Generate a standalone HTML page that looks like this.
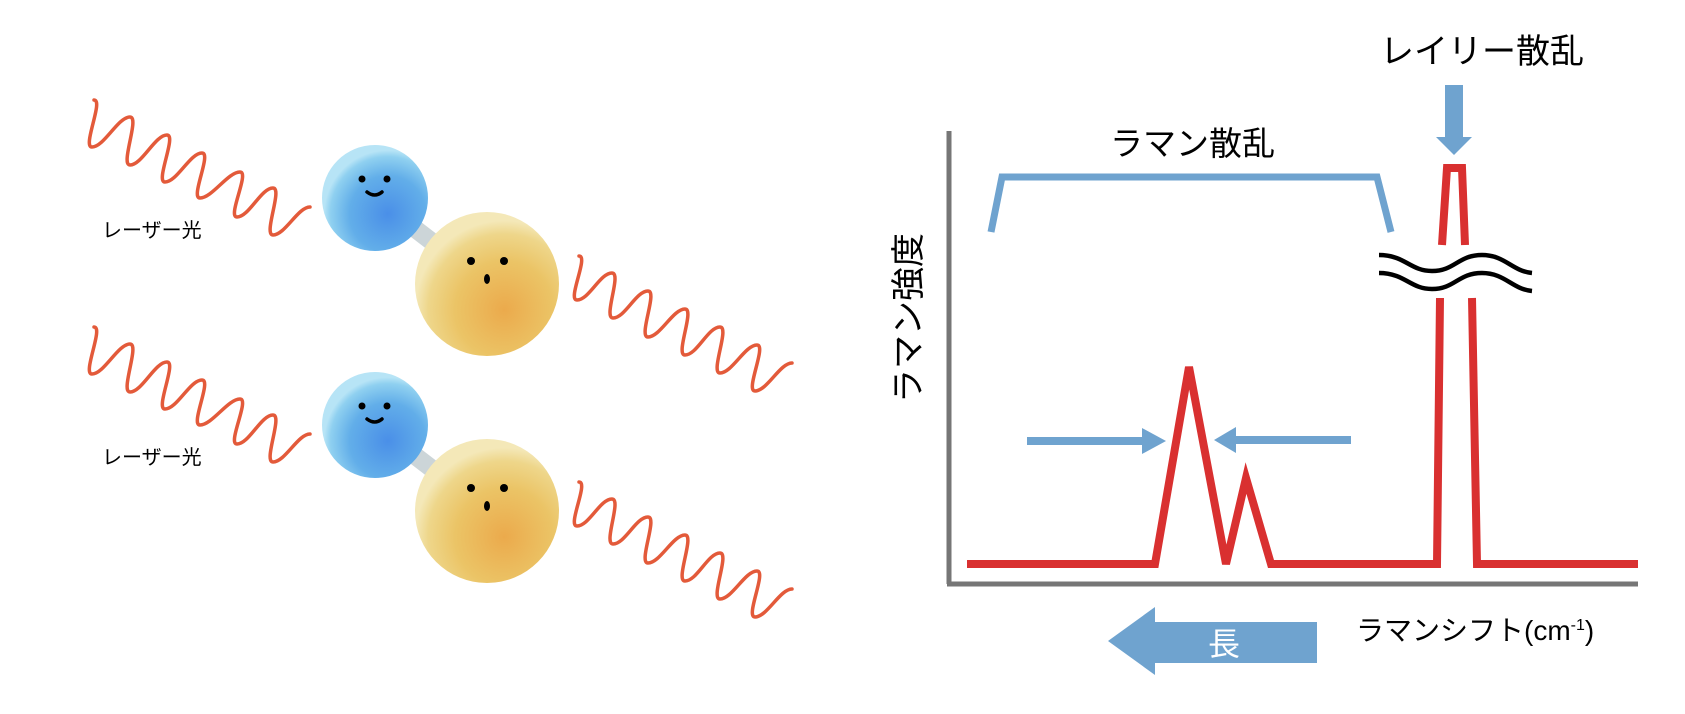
<!DOCTYPE html>
<html><head><meta charset="utf-8"><style>
html,body{margin:0;padding:0;background:#fff;}
svg{display:block;}
text{font-family:"Liberation Sans","Noto Sans CJK JP",sans-serif;}
</style></head><body>
<svg width="1685" height="714" viewBox="0 0 1685 714" xmlns="http://www.w3.org/2000/svg">
<defs>
<radialGradient id="gb" cx="0.62" cy="0.65" r="0.6">
<stop offset="0" stop-color="#4a8fe8"/><stop offset="0.6" stop-color="#62aee9"/><stop offset="0.9" stop-color="#8fd0f0"/><stop offset="1" stop-color="#b7e4f6"/>
</radialGradient>
<radialGradient id="go" cx="0.62" cy="0.68" r="0.62">
<stop offset="0" stop-color="#ebaa4c"/><stop offset="0.55" stop-color="#ebc466"/><stop offset="0.85" stop-color="#eed68a"/><stop offset="1" stop-color="#f4e8b8"/>
</radialGradient>
<g id="mol">
<line x1="375" y1="198" x2="487" y2="284" stroke="#ccd5d8" stroke-width="18"/>
<circle cx="375" cy="198" r="53" fill="url(#gb)"/>
<circle cx="487" cy="284" r="72" fill="url(#go)"/>
<circle cx="362" cy="179" r="3.5" fill="#000"/>
<circle cx="387" cy="179" r="3.5" fill="#000"/>
<path d="M367,192 Q375,198 382,192" stroke="#000" stroke-width="3.5" fill="none" stroke-linecap="round"/>
<circle cx="471" cy="261" r="4" fill="#000"/>
<circle cx="504" cy="261" r="4" fill="#000"/>
<ellipse cx="487" cy="279" rx="3" ry="5" fill="#000"/>
</g>
<path id="wl" d="M94,100 C104,100 82,147 92,147 C104,147 118,117 130,117 C140,117 120,165 130,165 C142,165 155,135 167,135 C177,135 155,182 165,182 C177,182 190,153 202,153 C212,153 190,198 200,198 C212,198 228,172 240,172 C250,172 227,217 237,217 C249,217 261,188 273,188 C283,188 263,235 273,235 C285,235 298,207 310,207" stroke="#e35a3a" stroke-width="3.5" fill="none" stroke-linecap="round"/>
<path id="wr" d="M579,256 C589,256 567,300 577,300 C589,300 600,273 612,273 C622,273 603,318 613,318 C625,318 636,291 648,291 C658,291 638,337 648,337 C660,337 673,309 685,309 C695,309 675,355 685,355 C697,355 708,327 720,327 C730,327 710,373 720,373 C732,373 745,345 757,345 C767,345 745,391 755,391 C767,391 780,363 792,363" stroke="#e35a3a" stroke-width="3.5" fill="none" stroke-linecap="round"/>
</defs>

<use href="#wl"/>
<use href="#wl" transform="translate(0,227)"/>
<use href="#wr"/>
<use href="#wr" transform="translate(0,226)"/>
<use href="#mol"/>
<use href="#mol" transform="translate(0,227)"/>
<text x="102" y="237" font-size="20">レーザー光</text>
<text x="102" y="464" font-size="20">レーザー光</text>

<line x1="949" y1="131" x2="949" y2="584" stroke="#767676" stroke-width="5"/>
<line x1="947" y1="584" x2="1638" y2="584" stroke="#767676" stroke-width="5"/>

<path d="M991,232 L1002,177 L1377,177 L1391,232" stroke="#6fa3cf" stroke-width="7" fill="none"/>
<text x="1110" y="155" font-size="33">ラマン散乱</text>
<text x="1380" y="63" font-size="34">レイリー散乱</text>
<text transform="translate(920,318) rotate(-90)" text-anchor="middle" font-size="34">ラマン強度</text>

<rect x="1445" y="85" width="18" height="53" fill="#6fa3cf"/>
<polygon points="1436,137 1472,137 1454,155" fill="#6fa3cf"/>

<polyline points="967,564 1155,564 1189,367 1226,564 1246,478 1271,564 1435,564 1437,564 1440,298" stroke="#d93030" stroke-width="8" fill="none" stroke-linejoin="miter"/>
<polyline points="1442,245 1447,168 1462,168 1465,245" stroke="#d93030" stroke-width="8" fill="none"/>
<polyline points="1472,298 1477,564 1638,564" stroke="#d93030" stroke-width="8" fill="none"/>

<path d="M1379,255 C1405,255 1410,271 1432,271 C1455,271 1458,255 1482,255 C1505,255 1512,271 1532,273" stroke="#000" stroke-width="4.5" fill="none"/>
<path d="M1379,273 C1405,273 1410,289 1432,289 C1455,289 1458,273 1482,273 C1505,273 1512,289 1532,291" stroke="#000" stroke-width="4.5" fill="none"/>

<line x1="1027" y1="441" x2="1145" y2="441" stroke="#6fa3cf" stroke-width="8"/>
<polygon points="1142,428 1166,441 1142,454" fill="#6fa3cf"/>
<line x1="1234" y1="440" x2="1351" y2="440" stroke="#6fa3cf" stroke-width="8"/>
<polygon points="1236,427 1214,440 1236,453" fill="#6fa3cf"/>

<polygon points="1108,641 1155,607 1155,622 1317,622 1317,663 1155,663 1155,675" fill="#6fa3cf"/>
<text x="1224" y="655" font-size="32" fill="#fff" text-anchor="middle">長</text>
<text x="1356" y="640" font-size="28">ラマンシフト(cm<tspan font-size="16" dy="-10">-1</tspan><tspan dy="10">)</tspan></text>
</svg>
</body></html>
